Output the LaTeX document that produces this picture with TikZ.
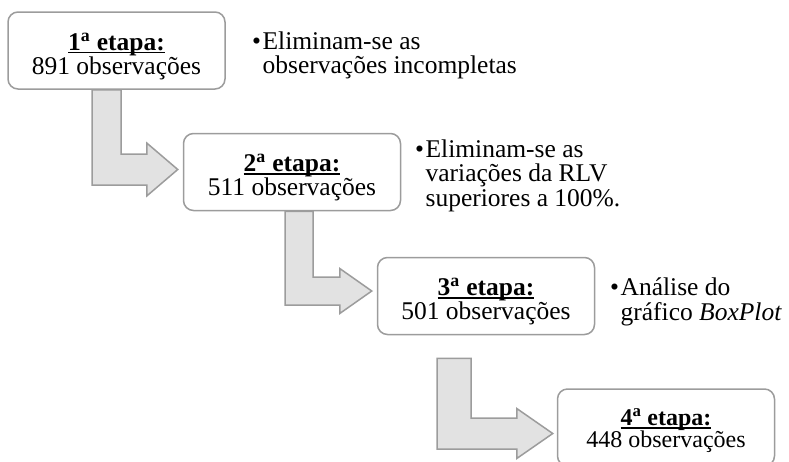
\documentclass[tikz,border=0pt]{standalone}
\usepackage{fontspec}
\setmainfont{Liberation Serif}
\usetikzlibrary{calc,backgrounds}
\definecolor{edgegray}{HTML}{9C9C9C}
\definecolor{arrowfill}{HTML}{E2E2E2}
\newcommand\ulx[1]{\setbox0=\hbox{#1}\rlap{\rule[-2.8pt]{\wd0}{1.5pt}}\box0}
\newcommand\stg[3]{\rule{0pt}{#3}\ulx{\textbf{#1\textsuperscript{a} etapa:}}\\#2 observações}
% #1 stem top centre, #2 tip, #3 half stem width, #4 half bar height, #5 half head height, #6 head length
\newcommand\larrow[6]{%
  \draw[blockarrow] let \p1=(#1), \p2=(#2) in
    (\x1-#3,\y1) -- (\x1+#3,\y1) -- (\x1+#3,\y2+#4) -- (\x2-#6,\y2+#4)
    -- (\x2-#6,\y2+#5) -- (\x2,\y2) -- (\x2-#6,\y2-#5) -- (\x2-#6,\y2-#4)
    -- (\x1-#3,\y2-#4) -- cycle;}
\begin{document}
\begin{tikzpicture}[x=1pt,y=-1pt,
  stagebox/.style={draw=edgegray, line width=1.5pt, fill=white, rounded corners=10pt,
    minimum width=217pt, minimum height=77pt, align=center, inner sep=0pt,
    font=\fontsize{25.5}{24}\selectfont},
  note/.style={anchor=base west, inner sep=0pt, font=\fontsize{25.5}{24}\selectfont},
  blockarrow/.style={draw=edgegray, line width=1.5pt, fill=arrowfill, line join=miter}]
\useasboundingbox (0,0) rectangle (789,461);
\clip (0,0) rectangle (789,461);
\node[stagebox] (s1) at (116.5,50.5) {\stg{1}{891}{29pt}};
\node[stagebox] (s2) at (292,172) {\stg{2}{511}{29pt}};
\node[stagebox] (s3) at (486,296) {\stg{3}{501}{29pt}};
\node[stagebox, font=\fontsize{24}{22}\selectfont] (s4) at (666,427.5) {\stg{4}{448}{24pt}};
\node[note] (n1) at (252,49) {\begin{tabular}[t]{@{}l@{\hspace{1.5pt}}l@{}}•&Eliminam-se as\\&observações incompletas\end{tabular}};
\node[note] (n2) at (415,157) {\begin{tabular}[t]{@{}l@{\hspace{1.5pt}}l@{}}•&Eliminam-se as\\&variações da RLV\\&superiores a 100\%.\end{tabular}};
\node[note] (n3) at (610,295) {\begin{tabular}[t]{@{}l@{\hspace{1.5pt}}l@{}}•&Análise do\\&gráfico \textit{BoxPlot}\end{tabular}};
\coordinate (a1top) at ($(s1.south)+(-10,0)$);
\coordinate (a1tip) at ($(s2.west)+(-5,-2.5)$);
\coordinate (a2top) at ($(s2.south)+(7,0)$);
\coordinate (a2tip) at ($(s3.west)+(-5,-5)$);
\coordinate (a3top) at ($(s3.south)+(-32,23)$);
\coordinate (a3tip) at ($(s4.west)+(-4,6)$);
\begin{scope}[on background layer]
\larrow{a1top}{a1tip}{14.5pt}{15.5pt}{26.5pt}{31pt}
\larrow{a2top}{a2tip}{14pt}{14pt}{22.5pt}{32pt}
\larrow{a3top}{a3tip}{17pt}{15.5pt}{25pt}{36pt}
\end{scope}
\end{tikzpicture}
\end{document}
